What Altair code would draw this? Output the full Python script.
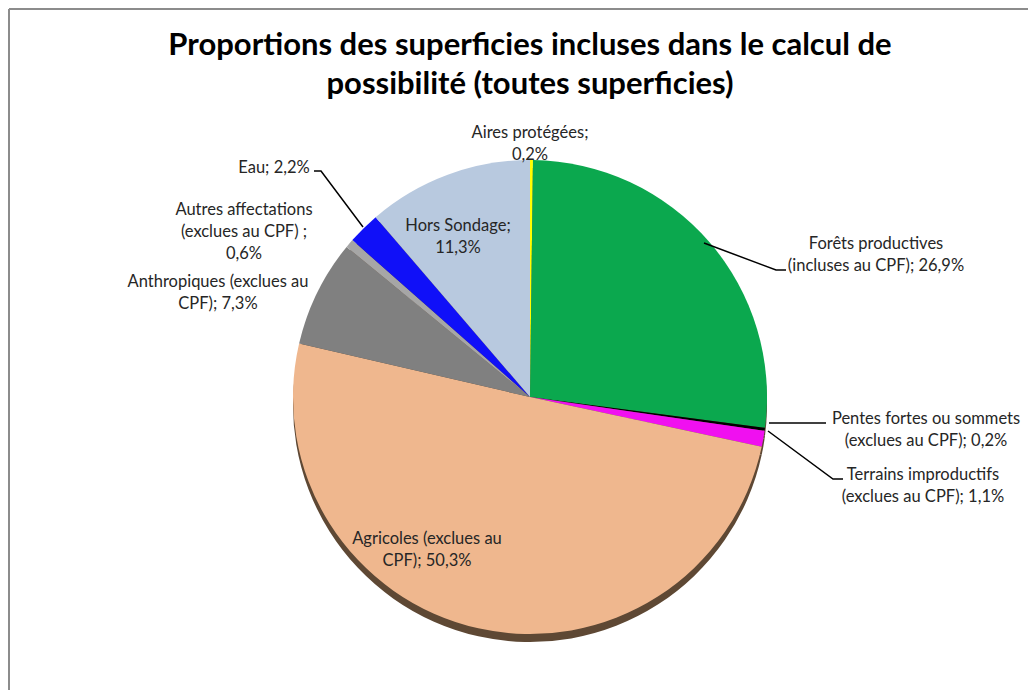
import altair as alt
import pandas as pd

# ---- data ----
categories = [
    "Aires protégées",
    "Forêts productives (incluses au CPF)",
    "Pentes fortes ou sommets (exclues au CPF)",
    "Terrains improductifs (exclues au CPF)",
    "Agricoles (exclues au CPF)",
    "Anthropiques (exclues au CPF)",
    "Autres affectations (exclues au CPF)",
    "Eau",
    "Hors Sondage",
]
values = [0.2, 26.9, 0.2, 1.1, 50.3, 7.3, 0.6, 2.2, 11.3]
colors = ["#FFFF00", "#0BA84E", "#000000", "#F010F0", "#EFB78E",
          "#808080", "#A6A6A6", "#1010F8", "#B8C9DF"]
label_texts = [
    "Aires protégées;\n0,2%",
    "Forêts productives\n(incluses au CPF); 26,9%",
    "Pentes fortes ou sommets\n(exclues au CPF); 0,2%",
    "Terrains improductifs\n(exclues au CPF); 1,1%",
    "Agricoles (exclues au\nCPF); 50,3%",
    "Anthropiques (exclues au\nCPF); 7,3%",
    "Autres affectations\n(exclues au CPF) ;\n0,6%",
    "Eau; 2,2%",
    "Hors Sondage;\n11,3%",
]
title_lines = ["Proportions des superficies incluses dans le calcul de",
               "possibilité (toutes superficies)"]

# ---- layout (pixel positions of annotations) ----
W, H = 1020, 682
CX, CY, R = 521, 388, 237
label_x = [521, 867, 917, 914, 418, 209, 235, 265, 449]
label_y = [124, 235, 410, 466, 530, 273, 201, 159, 217]
leaders = {
    "Forêts": [(695, 234), (767, 261), (777, 261)],
    "Pentes": [(760, 414), (817, 414)],
    "Terrains": [(759, 422), (824, 470), (834, 470)],
    "Eau": [(305, 162), (312, 162), (354, 218)],
}

df = pd.DataFrame({"cat": categories, "val": values, "idx": list(range(len(values)))})
lab = pd.DataFrame({"t": label_texts, "x": label_x, "y": label_y})
rows = []
for k, pts in leaders.items():
    for i, (x, y) in enumerate(pts):
        rows.append({"g": k, "o": i, "x": x, "y": y})
lead = pd.DataFrame(rows)
tit = pd.DataFrame({"t": title_lines, "x": [521, 521], "y": [37, 76]})

shadow = alt.Chart(df).mark_arc(
    outerRadius=R, color="#5E4834"
).encode(
    theta=alt.Theta("val:Q", stack=True),
    order=alt.Order("idx:Q"),
    x=alt.value(CX), y=alt.value(CY + 8),
)

pie = alt.Chart(df).mark_arc(outerRadius=R).encode(
    theta=alt.Theta("val:Q", stack=True),
    order=alt.Order("idx:Q"),
    color=alt.Color("cat:N", scale=alt.Scale(domain=categories, range=colors), legend=None),
    x=alt.value(CX),
    y=alt.value(CY),
)

labels = alt.Chart(lab).mark_text(
    font="Lato", fontSize=16.5, color="#262626", lineBreak="\n", lineHeight=22,
    align="center", baseline="middle"
).encode(x=alt.X("x:Q", scale=None), y=alt.Y("y:Q", scale=None), text="t:N")

lines = alt.Chart(lead).mark_line(color="#000000", strokeWidth=1.5).encode(
    x=alt.X("x:Q", scale=None), y=alt.Y("y:Q", scale=None),
    detail="g:N", order="o:Q"
)

title = alt.Chart(tit).mark_text(
    font="Lato", fontSize=31, fontWeight="bold", color="#000000",
    align="center", baseline="middle"
).encode(x=alt.X("x:Q", scale=None), y=alt.Y("y:Q", scale=None), text="t:N")

border_top = alt.Chart(pd.DataFrame({"v": [0]})).mark_rule(color="#8C8C8C", strokeWidth=2).encode(
    x=alt.value(0), x2=alt.value(W + 20), y=alt.value(0))
border_left = alt.Chart(pd.DataFrame({"v": [0]})).mark_rule(color="#8C8C8C", strokeWidth=2).encode(
    x=alt.value(0), y=alt.value(0), y2=alt.value(H + 20))

chart = alt.layer(border_top, border_left, shadow, pie, lines, labels, title).properties(
    width=W, height=H, padding=0,
    autosize=alt.AutoSizeParams(type="fit", contains="padding"),
).configure_view(stroke=None)

chart.save("out.html", embed_options={"renderer": "svg", "actions": False})
